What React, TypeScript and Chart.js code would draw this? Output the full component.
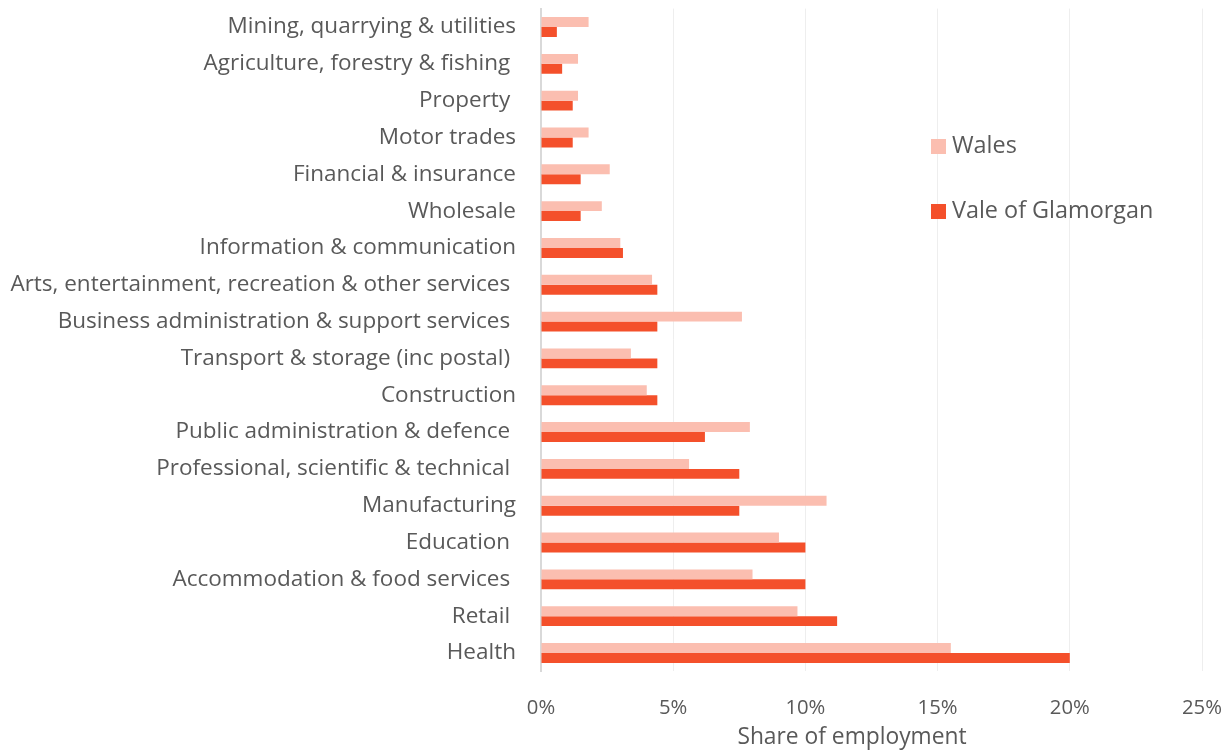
import React, { useEffect, useRef } from "react";
import { Chart, registerables } from "chart.js";

Chart.register(...registerables);

const categories = [
  "Mining, quarrying & utilities",
  "Agriculture, forestry & fishing ",
  "Property ",
  "Motor trades",
  "Financial & insurance",
  "Wholesale",
  "Information & communication",
  "Arts, entertainment, recreation & other services ",
  "Business administration & support services ",
  "Transport & storage (inc postal) ",
  "Construction",
  "Public administration & defence ",
  "Professional, scientific & technical ",
  "Manufacturing",
  "Education ",
  "Accommodation & food services ",
  "Retail ",
  "Health",
];

const walesValues = [1.8, 1.4, 1.4, 1.8, 2.6, 2.3, 3.0, 4.2, 7.6, 3.4, 4.0, 7.9, 5.6, 10.8, 9.0, 8.0, 9.7, 15.5];
const valeValues = [0.6, 0.8, 1.2, 1.2, 1.5, 1.5, 3.1, 4.4, 4.4, 4.4, 4.4, 6.2, 7.5, 7.5, 10.0, 10.0, 11.2, 20.0];

const seriesNames = ["Wales", "Vale of Glamorgan"];
const seriesColors = ["#FBBEB0", "#F4502B"];
const xTicks = [0, 5, 10, 15, 20, 25];
const xTitle = "Share of employment";

const FAMILY = "'Open Sans', sans-serif";
const TEXT = "#595959";

function fitSize(text: string, target: number): number {
  const c = document.createElement("canvas").getContext("2d") as CanvasRenderingContext2D;
  c.font = `100px ${FAMILY}`;
  const w = c.measureText(text).width;
  return Math.round((100 * target) / w * 10) / 10;
}

export default function App() {
  const ref = useRef<HTMLCanvasElement | null>(null);
  useEffect(() => {
    document.body.style.margin = "0";
    const ySize = fitSize("Arts, entertainment, recreation & other services", 500);
    const legendSize = fitSize("Vale of Glamorgan", 201);
    const titleSize = fitSize("Share of employment", 229);
    const tickSize = fitSize("20%", 40);

    const overlayPlugin = {
      id: "customLegendTitle",
      afterDraw(chart: any) {
        const ctx = chart.ctx;
        ctx.save();
        const x = 931;
        const ys = [146, 211];
        ctx.textBaseline = "middle";
        seriesNames.forEach((name, i) => {
          ctx.fillStyle = seriesColors[i];
          ctx.fillRect(x, ys[i] - 7, 15, 15);
          ctx.fillStyle = TEXT;
          ctx.font = `${legendSize}px ${FAMILY}`;
          ctx.textAlign = "left";
          ctx.fillText(name, x + 21, ys[i]);
        });
        ctx.font = `${titleSize}px ${FAMILY}`;
        ctx.fillStyle = TEXT;
        ctx.textAlign = "center";
        ctx.fillText(xTitle, 852, 738);
        ctx.restore();
      },
    };

    const chart = new Chart(ref.current as HTMLCanvasElement, {
      type: "bar",
      data: {
        labels: categories,
        datasets: [
          {
            label: seriesNames[0],
            data: walesValues,
            backgroundColor: seriesColors[0],
            barPercentage: 1,
            categoryPercentage: 0.54,
          },
          {
            label: seriesNames[1],
            data: valeValues,
            backgroundColor: seriesColors[1],
            barPercentage: 1,
            categoryPercentage: 0.54,
          },
        ],
      },
      options: {
        indexAxis: "y",
        animation: false,
        responsive: false,
        maintainAspectRatio: false,
        layout: { padding: { left: 0, right: 28, top: 8.6, bottom: 0 } },
        plugins: {
          legend: { display: false },
          tooltip: { enabled: false },
        },
        scales: {
          x: {
            min: 0,
            max: 25,
            afterBuildTicks: (scale: any) => {
              scale.ticks = xTicks.map((v) => ({ value: v }));
            },
            afterFit: (scale: any) => {
              scale.height = 78.6;
              scale.paddingLeft = 0;
              scale.paddingRight = 0;
              scale.paddingTop = 0;
              scale.paddingBottom = 0;
            },
            grid: { color: "#EEEEEE", lineWidth: 1, drawTicks: false },
            border: { display: false },
            ticks: {
              padding: 25,
              color: TEXT,
              font: { family: FAMILY, size: tickSize },
              callback: (v: any) => v + "%",
            },
            title: { display: false },
          },
          y: {
            afterFit: (scale: any) => {
              scale.width = 541;
              scale.paddingLeft = 0;
              scale.paddingRight = 0;
              scale.paddingTop = 0;
              scale.paddingBottom = 0;
            },
            grid: { display: false, drawTicks: false },
            border: { display: true, color: "#D9D9D9", width: 2 },
            ticks: {
              padding: 25,
              color: TEXT,
              font: { family: FAMILY, size: ySize },
              autoSkip: false,
            },
          },
        },
      },
      plugins: [overlayPlugin],
    });
    return () => chart.destroy();
  }, []);
  return (
    <div style={{ width: 1230, height: 750 }}>
      <canvas ref={ref} width={1230} height={750} style={{ display: "block" }} />
    </div>
  );
}
